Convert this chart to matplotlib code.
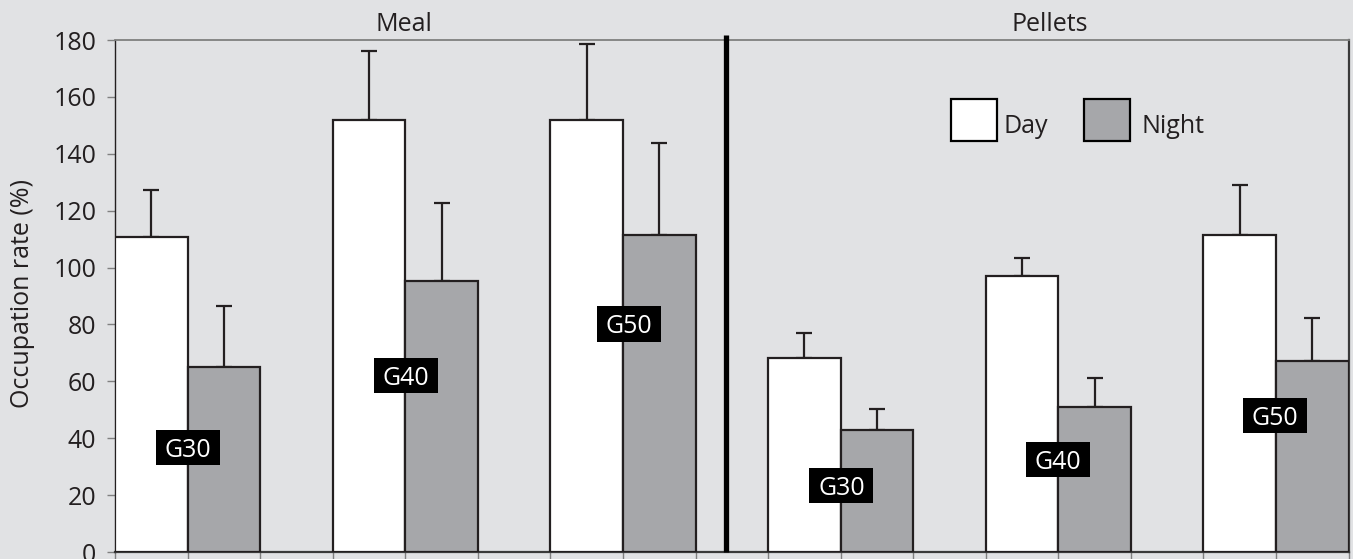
import matplotlib
matplotlib.use("Agg")
import matplotlib.pyplot as plt
from matplotlib.patches import Rectangle

plt.rcParams['font.family'] = ['Open Sans', 'DejaVu Sans']

# ---- data ----
groups = ["G30", "G40", "G50"]
panels = ["Meal", "Pellets"]
legend_labels = ["Day", "Night"]
meal_day = [110.8, 151.8, 151.8]
meal_day_err = [16.4, 24.3, 26.7]
meal_night = [65.0, 95.3, 111.6]
meal_night_err = [21.6, 27.5, 32.2]
pellets_day = [68.3, 96.9, 111.6]
pellets_day_err = [8.6, 6.6, 17.4]
pellets_night = [42.8, 51.0, 67.1]
pellets_night_err = [7.5, 10.3, 15.2]
yticks = list(range(0, 181, 20))

# label placement (layout)
label_y = [[36.75, 62.0, 80.25], [23.4, 32.5, 48.0]]
label_dx = [[0.0, 0.01, 0.08], [0.01, -0.01, -0.01]]

BG = "#e1e2e4"
NIGHT = "#a6a7aa"
EDGE = "#231f20"
FS = 18

fig = plt.figure(figsize=(13.53, 5.59), dpi=100, facecolor=BG)
ax = fig.add_axes([115.2 / 1353, 7 / 559, 1233.3 / 1353, 512 / 559])
ax.set_facecolor(BG)

day_sets = [(meal_day, meal_day_err), (pellets_day, pellets_day_err)]
night_sets = [(meal_night, meal_night_err), (pellets_night, pellets_night_err)]
sep = 8.42
for p in range(2):
    base = 0 if p == 0 else 9
    dvals, derr = day_sets[p]
    nvals, nerr = night_sets[p]
    dx = [base + 3 * i for i in range(3)]
    nx = [base + 3 * i + 1 for i in range(3)]
    ax.bar(dx, dvals, width=1, align='edge', color='white', edgecolor=EDGE,
           linewidth=1.6, zorder=3)
    ax.bar(nx, nvals, width=1, align='edge', color=NIGHT, edgecolor=EDGE,
           linewidth=1.6, zorder=3)
    ax.errorbar([x + 0.5 for x in dx], dvals, yerr=[[0] * 3, derr], fmt='none',
                ecolor=EDGE, elinewidth=1.6, capsize=5.5, capthick=1.6, zorder=2)
    ax.errorbar([x + 0.5 for x in nx], nvals, yerr=[[0] * 3, nerr], fmt='none',
                ecolor=EDGE, elinewidth=1.6, capsize=5.5, capthick=1.6, zorder=2)
    for i, g in enumerate(groups):
        cx = base + 3 * i + 1 + label_dx[p][i]
        cy = label_y[p][i]
        w, h = 0.883, 12.5
        ax.add_patch(Rectangle((cx - w / 2, cy - h / 2), w, h, facecolor='black',
                               edgecolor='none', zorder=5))
        ax.text(cx, cy, g, color='white', fontsize=FS, ha='center',
                va='center_baseline', zorder=6)

ax.plot([sep, sep], [0, 181.8], color='black', linewidth=3.8, clip_on=False,
        zorder=6, solid_capstyle='butt')

ax.set_xlim(0, 17)
ax.set_ylim(0, 180)
ax.set_yticks(yticks)
ax.set_yticklabels([str(v) for v in yticks], fontsize=FS, color=EDGE)
ax.set_xticks(range(0, 18))
ax.set_xticklabels([])
ax.tick_params(axis='y', direction='out', length=5.5, width=1, color='#808080', pad=8)
ax.tick_params(axis='x', direction='out', length=6, width=1, color='#808080')

ax.spines['top'].set_color('#7f807f')
ax.spines['top'].set_linewidth(1.3)
ax.spines['right'].set_color('#3a3a3a')
ax.spines['right'].set_linewidth(1.6)
ax.spines['left'].set_color('#231f20')
ax.spines['left'].set_linewidth(1.0)
ax.spines['bottom'].set_color('#3a3a3a')
ax.spines['bottom'].set_linewidth(1.6)

# legend
ax.add_patch(Rectangle((11.52, 144.5), 0.64, 14.8, facecolor='white', edgecolor='black',
                       linewidth=1.6, zorder=5))
ax.add_patch(Rectangle((13.35, 144.5), 0.64, 14.8, facecolor=NIGHT, edgecolor='black',
                       linewidth=1.6, zorder=5))
ax.text(12.25, 147.25, legend_labels[0], fontsize=FS, color=EDGE, va='baseline', ha='left')
ax.text(14.14, 147.25, legend_labels[1], fontsize=FS, color=EDGE, va='baseline', ha='left')

fig.text(404 / 1353, (559 - 31) / 559, panels[0], fontsize=FS, color=EDGE,
         ha='center', va='baseline')
fig.text(1049.6 / 1353, (559 - 31) / 559, panels[1], fontsize=FS, color=EDGE,
         ha='center', va='baseline')
fig.text(23 / 1353, (559 - 293) / 559, "Occupation rate (%)", fontsize=FS, color=EDGE,
         rotation=90, ha='center', va='center')

fig.savefig("out.png", dpi=100, facecolor=BG)
